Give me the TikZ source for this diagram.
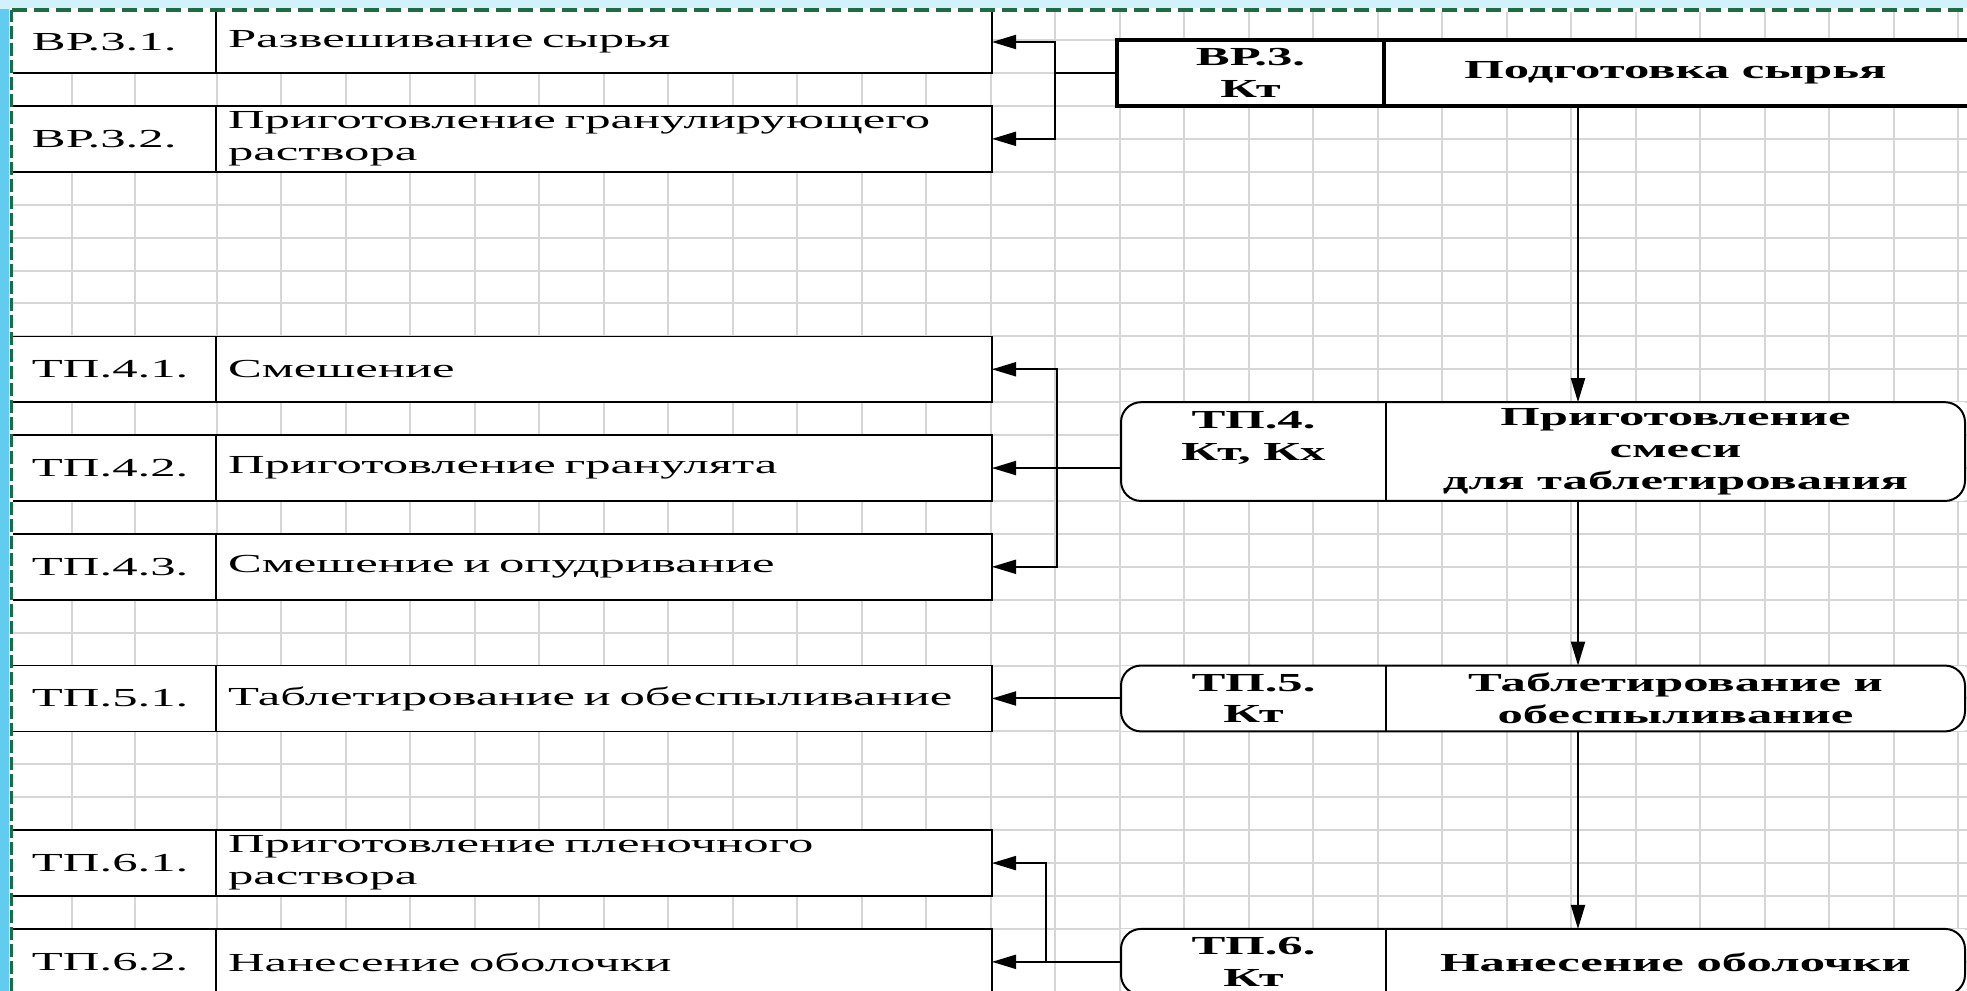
\documentclass[tikz,border=0pt]{standalone}
\usepackage{fontspec}
\setmainfont{Liberation Serif}[FakeStretch=1.95]
\usepackage{xcolor}
\usepackage{tikz}
\usetikzlibrary{positioning,arrows.meta,calc}
\definecolor{goluboj}{HTML}{62CBF0}
\definecolor{nebo}{HTML}{D2F2FB}
\definecolor{zelenyj}{HTML}{1F6B45}
\definecolor{seryj}{HTML}{D6D6D6}

\begin{document}
\begin{tikzpicture}[
  x=0.5pt, y=-0.5pt,
  font=\fontsize{13}{16}\selectfont,
  nomer/.style={draw, fill=white, line width=0.8pt, outer sep=0pt, anchor=north west,
    align=left, text width=82pt, inner xsep=10pt, inner ysep=1pt, minimum height=32.92pt},
  opis/.style={draw, fill=white, line width=0.8pt, outer sep=0pt,
    align=left, text width=376pt, inner xsep=6pt, inner ysep=1pt, minimum height=32.92pt},
  znak/.style={fill=white, outer sep=0pt, inner sep=0pt, anchor=north west, align=center,
    font=\fontsize{13}{16}\selectfont\bfseries},
  ramka/.style={draw, line width=1pt},
  strelka/.style={-{Triangle[length=12pt,width=7pt]}, line width=1pt},
  setka/.style={draw=seryj, line width=1pt},
  kant/.style={draw=zelenyj, line width=1.6pt}
]
  \useasboundingbox (0,0) rectangle (1967,991);
  \clip (0,0) rectangle (1967,991);
  \fill[nebo] (0,0) rectangle (1967,991);
  \fill[goluboj] (0,9) rectangle (9,991);
  \fill[white] (11.5,10) rectangle (1967,991);

  % сетка
  \foreach \gx in {72,135,216.5,281,...,1960}
    \draw[setka] (\gx,10) -- (\gx,991);
  \foreach \k in {1,...,30}
    \draw[setka] (11.5,{7.15+32.92*\k}) -- (1967,{7.15+32.92*\k});

  % операции (слева)
  \node[nomer, minimum height=31pt] (vr31n) at (12,11) {ВР.3.1.};
  \node[opis, minimum height=31pt, right=0pt of vr31n] (vr31) {Развешивание сырья};
  \node[nomer, below=16.46pt of vr31n] (vr32n) {ВР.3.2.};
  \node[opis, right=0pt of vr32n] (vr32) {Приготовление гранулирующего\\раствора};

  \node[nomer, below=82.3pt of vr32n] (tp41n) {ТП.4.1.};
  \node[opis, right=0pt of tp41n] (tp41) {Смешение};
  \node[nomer, below=16.46pt of tp41n] (tp42n) {ТП.4.2.};
  \node[opis, right=0pt of tp42n] (tp42) {Приготовление гранулята};
  \node[nomer, below=16.46pt of tp42n] (tp43n) {ТП.4.3.};
  \node[opis, right=0pt of tp43n] (tp43) {Смешение и опудривание};

  \node[nomer, below=32.92pt of tp43n] (tp51n) {ТП.5.1.};
  \node[opis, right=0pt of tp51n] (tp51) {Таблетирование и обеспыливание};

  \node[nomer, below=49.38pt of tp51n] (tp61n) {ТП.6.1.};
  \node[opis, right=0pt of tp61n] (tp61) {Приготовление пленочного\\раствора};
  \node[nomer, below=16.46pt of tp61n] (tp62n) {ТП.6.2.};
  \node[opis, right=0pt of tp62n] (tp62) {Нанесение оболочки};

  % стадии (справа)
  \node[znak, minimum width=133.5pt, minimum height=32.92pt] (vr3n) at (1117,40.07) {ВР.3.\\Кт};
  \node[znak, minimum width=291.5pt, minimum height=32.92pt, right=0pt of vr3n] (vr3) {Подготовка сырья};
  \draw[ramka, line width=1.8pt] (vr3n.north west) rectangle ([xshift=10pt]vr3.south east);
  \draw[ramka, line width=1.8pt] (vr3n.north east) -- (vr3n.south east);

  \node[znak, minimum width=132.5pt, minimum height=49.38pt] (tp4n) at (1121,402.19) {ТП.4.\\Кт, Кх\\\phantom{Кт}};
  \node[znak, minimum width=289.5pt, minimum height=49.38pt, right=0pt of tp4n] (tp4)
    {Приготовление\\смеси\\для таблетирования};
  \draw[ramka, rounded corners=10pt] (tp4n.north west) rectangle (tp4.south east);
  \draw[ramka] (tp4n.north east) -- (tp4n.south east);

  \node[znak, minimum width=132.5pt, minimum height=32.92pt, right=64.5pt of tp51] (tp5n) {ТП.5.\\Кт};
  \node[znak, minimum width=289.5pt, minimum height=32.92pt, right=0pt of tp5n] (tp5)
    {Таблетирование и\\обеспыливание};
  \draw[ramka, rounded corners=10pt] (tp5n.north west) rectangle (tp5.south east);
  \draw[ramka] (tp5n.north east) -- (tp5n.south east);

  \node[znak, minimum width=132.5pt, minimum height=32.92pt, right=64.5pt of tp62] (tp6n) {ТП.6.\\Кт};
  \node[znak, minimum width=289.5pt, minimum height=32.92pt, right=0pt of tp6n] (tp6) {Нанесение оболочки};
  \draw[ramka, rounded corners=10pt] (tp6n.north west) rectangle (tp6.south east);
  \draw[ramka] (tp6n.north east) -- (tp6n.south east);

  % связи
  \coordinate (os) at (1578,0);
  \coordinate (sh3) at ($(vr31.east)!0.5!(vr3n.west)$);
  \coordinate (sh4) at ($(tp42.east)!0.5!(tp4n.west)$);
  \coordinate (sh6) at ($(tp62.east)!0.42!(tp6n.west)$);

  \draw[strelka] (vr3n.west) -- (vr3n.west -| sh3) |- (vr31.east);
  \draw[strelka] (vr3n.west -| sh3) |- (vr32.east);

  \draw[strelka] (tp4n.west |- tp42.east) -- (tp42.east);
  \draw[strelka] (sh4 |- tp42.east) |- (tp41.east);
  \draw[strelka] (sh4 |- tp42.east) |- (tp43.east);

  \draw[strelka] (tp5n.west) -- (tp51.east);

  \draw[strelka] (tp6n.west) -- (tp62.east);
  \draw[strelka] (sh6 |- tp6n.west) |- (tp61.east);

  \draw[strelka] (vr3.south -| os) -- (tp4.north -| os);
  \draw[strelka] (tp4.south -| os) -- (tp5.north -| os);
  \draw[strelka] (tp5.south -| os) -- (tp6.north -| os);

  % рамка слайда
  \draw[white, line width=1.8pt] (11.5,991) -- (11.5,10) -- (1967,10);
  \draw[kant, dash pattern=on 6.5pt off 2pt] (11.5,991) -- (11.5,10);
  \draw[kant, dash pattern=on 7.5pt off 3.5pt] (11.5,10) -- (1967,10);
\end{tikzpicture}
\end{document}
